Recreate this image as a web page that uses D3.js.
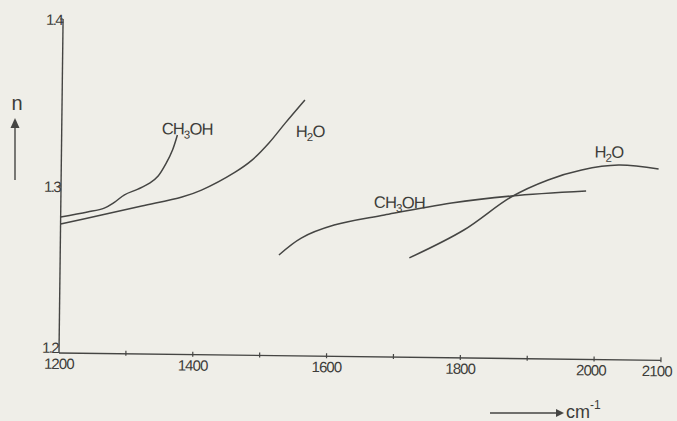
<!DOCTYPE html>
<html><head><meta charset="utf-8">
<script src="https://cdn.jsdelivr.net/npm/d3@7"></script>
<style>
html,body{margin:0;padding:0;background:#efeee8;}
svg{display:block;}
text{font-family:"Liberation Sans",Arial,sans-serif;fill:#3d3d3a;}
</style></head>
<body>
<svg id="chart" width="677" height="421"></svg>
<script>
// Wavenumber (cm-1) and refractive index n
const ch3ohLowX = [1200,1240,1265,1280,1295,1315,1333,1345,1357,1366,1373];
const ch3ohLowN = [1.2814,1.2846,1.2871,1.2906,1.2952,1.2987,1.3025,1.3067,1.3146,1.3224,1.3314];
const h2oLowX = [1200,1261,1321,1381,1410,1460,1485,1510,1534,1563];
const h2oLowN = [1.2772,1.2829,1.2886,1.2943,1.2986,1.3096,1.3169,1.3273,1.3393,1.3533];
const ch3ohHighX = [1527,1560,1609,1684,1784,1873,1985];
const ch3ohHighN = [1.2603,1.2706,1.2786,1.2850,1.2927,1.2973,1.3008];
const h2oHighX = [1722,1803,1873,1928,1978,2033,2093];
const h2oHighN = [1.2595,1.2766,1.2967,1.3072,1.3134,1.3166,1.3146];

const xLabelTicks = [1200,1400,1600,1800,2000,2100];
const xMinorTicks = [1300,1500,1700,1900];
const yTicks = [1.2,1.3,1.4];

const svg = d3.select("#chart");
const ink = "#454543";

const x = d3.scaleLinear().domain([1200,2100]).range([59,661]);
const y = d3.scaleLinear().domain([1.2,1.4]).range([353,19]);

// slight scan tilt
const g = svg.append("g").attr("transform","rotate(0.7,59,353)");

// axes lines
g.append("line").attr("x1",x(1200)).attr("x2",x(2100)).attr("y1",y(1.2)).attr("y2",y(1.2))
  .attr("stroke",ink).attr("stroke-width",1.4);
g.append("line").attr("x1",x(1200)).attr("x2",x(1200)).attr("y1",y(1.2)).attr("y2",y(1.4))
  .attr("stroke",ink).attr("stroke-width",1.4);

// x ticks
g.selectAll(".xt").data(xLabelTicks.concat(xMinorTicks).filter(d=>d!==1200)).join("line")
  .attr("x1",d=>x(d)).attr("x2",d=>x(d)).attr("y1",y(1.2)-3).attr("y2",y(1.2)+2)
  .attr("stroke",ink).attr("stroke-width",1.2);
g.selectAll(".xl").data(xLabelTicks).join("text")
  .attr("x",d=>x(d)+(d===2100?-4:(d===2000?-3:0))).attr("y",y(1.2)+16).attr("text-anchor","middle")
  .attr("font-size",15).attr("letter-spacing",-0.9).text(d=>d);

// y ticks
g.selectAll(".yt").data(yTicks.filter(d=>d!==1.2)).join("line")
  .attr("x1",x(1200)-3).attr("x2",x(1200)).attr("y1",d=>y(d)).attr("y2",d=>y(d))
  .attr("stroke",ink).attr("stroke-width",1.2);
g.selectAll(".yl").data(yTicks).join("text")
  .attr("x",x(1200)-1).attr("y",d=>y(d)+(d===1.2?0:6)).attr("text-anchor","end")
  .attr("font-size",15).attr("letter-spacing",-1.6).text(d=>d.toFixed(1));

// curves
const line = d3.line().x(d=>x(d[0])).y(d=>y(d[1])).curve(d3.curveCatmullRom.alpha(0.5));
const series = [
  d3.zip(ch3ohLowX, ch3ohLowN),
  d3.zip(h2oLowX, h2oLowN),
  d3.zip(ch3ohHighX, ch3ohHighN),
  d3.zip(h2oHighX, h2oHighN)
];
g.selectAll(".curve").data(series).join("path")
  .attr("d",line).attr("fill","none").attr("stroke",ink).attr("stroke-width",1.5);

// curve labels
function formula(px, py, parts){
  const t = g.append("text").attr("x",px).attr("y",py).attr("font-size",16.5).attr("letter-spacing",-0.8);
  parts.forEach(p=>{
    if(p.sub){ t.append("tspan").attr("font-size",11.5).attr("dy",4).text(p.t); }
    else { t.append("tspan").attr("dy",p.after?-4:0).text(p.t); }
  });
}
formula(159,133,[{t:"CH"},{t:"3",sub:true},{t:"OH",after:true}]);
formula(293,134,[{t:"H"},{t:"2",sub:true},{t:"O",after:true}]);
formula(372,204,[{t:"CH"},{t:"3",sub:true},{t:"OH",after:true}]);
formula(592,151,[{t:"H"},{t:"2",sub:true},{t:"O",after:true}]);

// n arrow
svg.append("line").attr("x1",15).attr("x2",15).attr("y1",180).attr("y2",124)
  .attr("stroke",ink).attr("stroke-width",1.4);
svg.append("path").attr("d","M10.5,128 L19.5,128 L15,118 Z").attr("fill",ink);
svg.append("text").attr("x",17).attr("y",110).attr("text-anchor","middle").attr("font-size",20).text("n");

// cm-1 arrow
svg.append("line").attr("x1",490).attr("x2",557).attr("y1",413).attr("y2",413)
  .attr("stroke",ink).attr("stroke-width",1.4);
svg.append("path").attr("d","M556,409 L556,417 L564,413 Z").attr("fill",ink);
const cm = svg.append("text").attr("x",566).attr("y",418).attr("font-size",18);
cm.append("tspan").text("cm");
cm.append("tspan").attr("font-size",12).attr("dy",-9).text("-1");
</script>
</body></html>
